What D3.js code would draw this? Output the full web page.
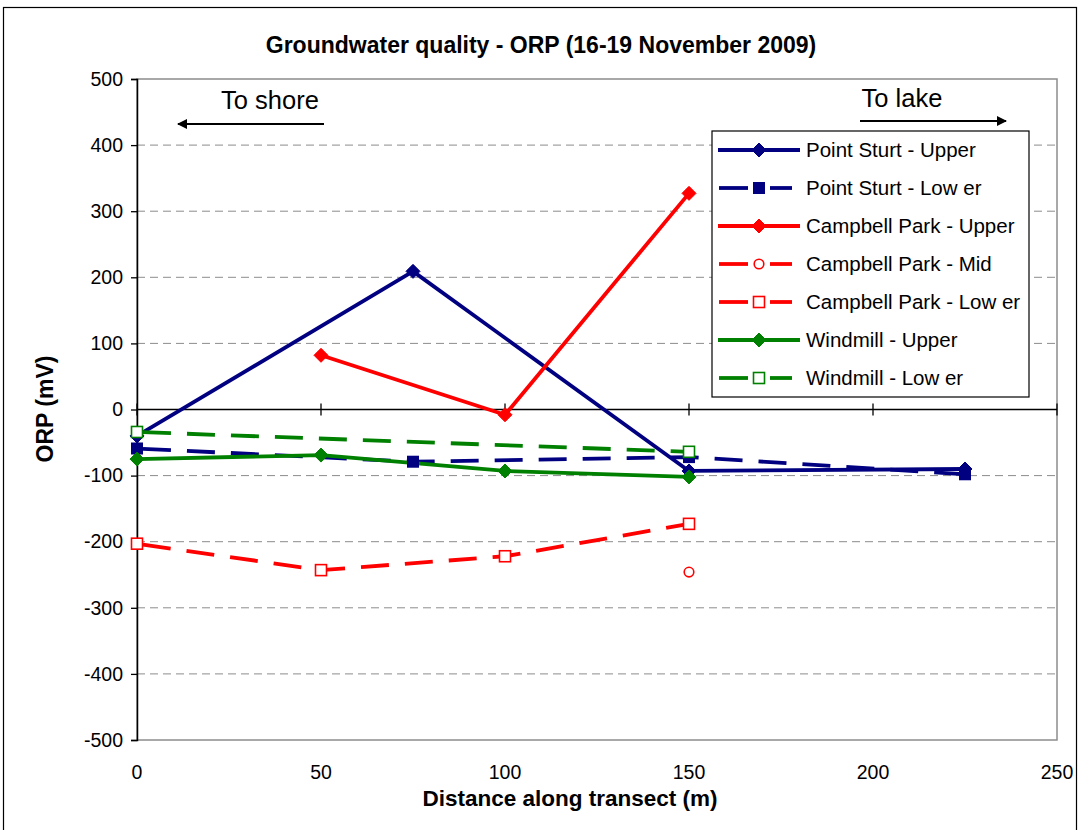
<!DOCTYPE html>
<html><head><meta charset="utf-8">
<script src="https://cdn.jsdelivr.net/npm/d3@7"></script>
<style>body{margin:0;background:#fff}svg{display:block}text{font-family:Arial,"Liberation Sans",sans-serif}</style>
</head><body>
<svg id="c" width="1080" height="830"></svg>
<script>
const seriesNames = ["Point Sturt - Upper","Point Sturt - Low er","Campbell Park - Upper","Campbell Park - Mid","Campbell Park - Low er","Windmill - Upper","Windmill - Low er"];
const pointSturtUpper = [[0,-40],[75,209],[150,-93],[225,-90]];
const pointSturtLower = [[0,-59],[75,-79],[150,-72],[225,-98]];
const campbellUpper = [[50,82],[100,-8],[150,327]];
const campbellMid = [[150,-246]];
const campbellLower = [[0,-203],[50,-243],[100,-222],[150,-173]];
const windmillUpper = [[0,-75],[50,-69],[100,-93],[150,-102]];
const windmillLower = [[0,-34],[150,-64]];
const xTicks = [0,50,100,150,200,250];
const yTicks = [500,400,300,200,100,0,-100,-200,-300,-400,-500];

const series = [
 {name:seriesNames[0], data:pointSturtUpper, color:"#000080", dash:null, marker:"diamond", fill:true},
 {name:seriesNames[1], data:pointSturtLower, color:"#000080", dash:"28,16", marker:"square", fill:true},
 {name:seriesNames[2], data:campbellUpper, color:"#ff0000", dash:null, marker:"diamond", fill:true},
 {name:seriesNames[3], data:campbellMid, color:"#ff0000", dash:"28,16", marker:"circle", fill:false},
 {name:seriesNames[4], data:campbellLower, color:"#ff0000", dash:"28,16", marker:"square", fill:false},
 {name:seriesNames[5], data:windmillUpper, color:"#008000", dash:null, marker:"diamond", fill:true},
 {name:seriesNames[6], data:windmillLower, color:"#008000", dash:"28,16", marker:"square", fill:false}
];

const svg = d3.select("#c");
const L=137, R=1057, T=79, B=740;
const x = d3.scaleLinear().domain([0,250]).range([L,R]);
const y = d3.scaleLinear().domain([-500,500]).range([B,T]);

// outer border
svg.append("rect").attr("x",3.5).attr("y",7.5).attr("width",1073).attr("height",830).attr("fill","none").attr("stroke","#000").attr("stroke-width",1.2);

// gridlines
svg.append("g").selectAll("line").data(yTicks.filter(v=>v!==0 && v!==500 && v!==-500)).join("line")
 .attr("x1",L).attr("x2",R).attr("y1",d=>y(d)).attr("y2",d=>y(d))
 .attr("stroke","#8c8c8c").attr("stroke-dasharray","8,5").attr("stroke-width",1);
// plot border
svg.append("rect").attr("x",L).attr("y",T).attr("width",R-L).attr("height",B-T).attr("fill","none").attr("stroke","#8c8c8c").attr("stroke-width",1.5);

// y axis
const yAxis = d3.axisLeft(y).tickValues(yTicks).tickSize(6).tickPadding(8).tickFormat(d=>String(d));
const gy = svg.append("g").attr("transform",`translate(${L},0)`).call(yAxis);
gy.select(".domain").attr("stroke","#000").attr("stroke-width",1.5);
gy.selectAll("text").attr("font-size",19.5).attr("fill","#000").attr("font-family","Arial, 'Liberation Sans', sans-serif");
gy.selectAll(".tick line").attr("stroke","#000").attr("stroke-width",1.3);

// x axis line at 0 with cross ticks
const gx = svg.append("g").attr("transform",`translate(0,${y(0)})`);
gx.append("line").attr("x1",L).attr("x2",R).attr("y1",0).attr("y2",0).attr("stroke","#000").attr("stroke-width",1.5);
gx.selectAll("line.t").data(xTicks).join("line").attr("class","t")
 .attr("x1",d=>x(d)).attr("x2",d=>x(d)).attr("y1",-6).attr("y2",6).attr("stroke","#000").attr("stroke-width",1.3);
// x tick labels at bottom
svg.append("g").selectAll("text").data(xTicks).join("text")
 .attr("x",d=>x(d)).attr("y",779).attr("text-anchor","middle").attr("font-size",19.5).text(d=>d);

// titles
svg.append("text").attr("x",541).attr("y",53).attr("text-anchor","middle").attr("font-size",23).attr("font-weight","bold").text("Groundwater quality - ORP (16-19 November 2009)");
svg.append("text").attr("x",570).attr("y",806).attr("text-anchor","middle").attr("font-size",22.5).attr("font-weight","bold").text("Distance along transect (m)");
svg.append("text").attr("transform","translate(53,409) rotate(-90)").attr("text-anchor","middle").attr("font-size",23).attr("font-weight","bold").text("ORP (mV)");

// annotations
svg.append("defs").append("marker").attr("id","ah").attr("viewBox","0 0 10 10").attr("refX",9).attr("refY",5)
 .attr("markerWidth",5).attr("markerHeight",5).attr("orient","auto-start-reverse").attr("markerUnits","strokeWidth")
 .append("path").attr("d","M0,0L10,5L0,10Z").attr("fill","#000");
svg.append("text").attr("x",270).attr("y",109).attr("text-anchor","middle").attr("font-size",25.5).text("To shore");
svg.append("line").attr("x1",324).attr("x2",178).attr("y1",124).attr("y2",124).attr("stroke","#000").attr("stroke-width",2).attr("marker-end","url(#ah)");
svg.append("text").attr("x",902).attr("y",107).attr("text-anchor","middle").attr("font-size",25.5).text("To lake");
svg.append("line").attr("x1",860).attr("x2",1006).attr("y1",121).attr("y2",121).attr("stroke","#000").attr("stroke-width",2).attr("marker-end","url(#ah)");

// lines
const line = d3.line().x(d=>x(d[0])).y(d=>y(d[1]));
function drawMarker(g, s, cx, cy){
  if(s.marker==="diamond"){
    g.append("path").attr("d",`M${cx},${cy-7}L${cx+7},${cy}L${cx},${cy+7}L${cx-7},${cy}Z`).attr("fill",s.color).attr("stroke",s.color).attr("stroke-width",1);
  } else if(s.marker==="square"){
    if(s.fill) g.append("rect").attr("x",cx-6).attr("y",cy-6).attr("width",12).attr("height",12).attr("fill",s.color);
    else g.append("rect").attr("x",cx-5.5).attr("y",cy-5.5).attr("width",11).attr("height",11).attr("fill","#fff").attr("stroke",s.color).attr("stroke-width",1.6);
  } else {
    g.append("circle").attr("cx",cx).attr("cy",cy).attr("r",4.8).attr("fill","#fff").attr("stroke",s.color).attr("stroke-width",1.6);
  }
}
const gl = svg.append("g");
series.forEach(s=>{
  if(s.data.length>1) gl.append("path").attr("d",line(s.data)).attr("fill","none").attr("stroke",s.color).attr("stroke-width",3.8)
    .attr("stroke-dasharray",s.dash).attr("stroke-dashoffset",s.dash?-6:0).attr("stroke-linejoin","round");
});
series.forEach(s=>{ s.data.forEach(d=>drawMarker(gl,s,x(d[0]),y(d[1]))); });

// legend
const lg = svg.append("g");
lg.append("rect").attr("x",712).attr("y",131).attr("width",317).attr("height",266).attr("fill","#fff").attr("stroke","#000").attr("stroke-width",1.2);
series.forEach((s,i)=>{
  const cy = 150 + i*38;
  if(s.dash) {
    lg.append("line").attr("x1",719).attr("x2",748).attr("y1",cy).attr("y2",cy).attr("stroke",s.color).attr("stroke-width",3.8);
    lg.append("line").attr("x1",770).attr("x2",792).attr("y1",cy).attr("y2",cy).attr("stroke",s.color).attr("stroke-width",3.8);
  } else {
    lg.append("line").attr("x1",718).attr("x2",800).attr("y1",cy).attr("y2",cy).attr("stroke",s.color).attr("stroke-width",3.8);
  }
  drawMarker(lg,s,759,cy);
  lg.append("text").attr("x",806).attr("y",cy+7).attr("font-size",20.5).text(s.name);
});
</script>
</body></html>
